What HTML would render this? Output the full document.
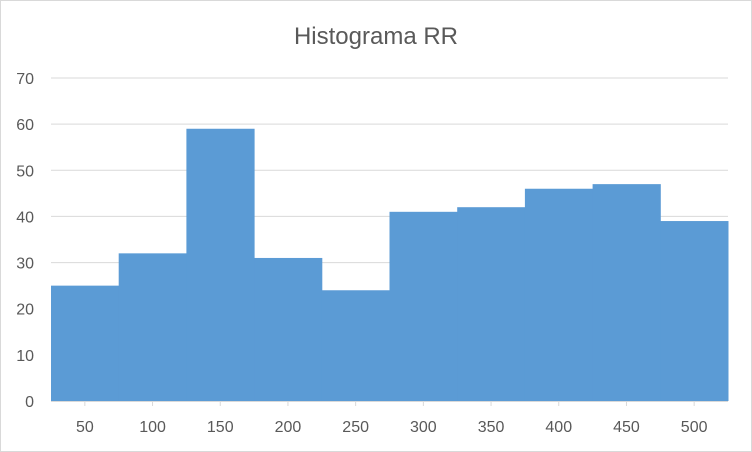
<!DOCTYPE html>
<html><head><meta charset="utf-8"><style>
body{margin:0;background:#fff}
svg{display:block;font-family:"Liberation Sans",sans-serif}
</style></head><body>
<svg id="c" width="752" height="452">
<rect x="0.5" y="0.5" width="751" height="451" fill="#fff" stroke="#d9d9d9"/>
<text x="376" y="44" text-anchor="middle" font-size="24" fill="#595959">Histograma RR</text>
<g id="grid"></g><g id="bars"></g><g id="axes"></g>
</svg>
<script>
const categories=[50,100,150,200,250,300,350,400,450,500];
const values=[25,32,59,31,24,41,42,46,47,39];
const yTicks=[0,10,20,30,40,50,60,70];
const X0=51,X1=728,Y0=401,Y1=78,YMAX=70;
const bw=(X1-X0)/categories.length;
const y=v=>Y0-(v/YMAX)*(Y0-Y1);
const xs=i=>X0+i*bw;
const NS="http://www.w3.org/2000/svg";
function mk(t,a,p){const e=document.createElementNS(NS,t);for(const k in a)e.setAttribute(k,a[k]);p.appendChild(e);return e;}
const g=document.getElementById('grid'),b=document.getElementById('bars'),ax=document.getElementById('axes');
yTicks.forEach(t=>{
 if(t>0){const l=mk('line',{x1:X0,x2:X1,y1:y(t),y2:y(t),stroke:'#d9d9d9'},g);
 
 }
 const tx=mk('text',{x:34,y:y(t)+6,'text-anchor':'end','font-size':16,fill:'#595959'},ax);
 tx.textContent=t;
 
 
});
values.forEach((v,i)=>{
 const r=mk('rect',{x:xs(i),y:y(v),width:bw+0.5,height:Y0-y(v),fill:'#5b9bd5'},b);
 
 
});
const axl=mk('line',{x1:X0,x2:X1,y1:Y0+0.5,y2:Y0+0.5,stroke:'#d9d9d9'},ax);


categories.forEach((c,i)=>{
 const cx=xs(i)+bw/2;
 const tk=mk('line',{x1:cx,x2:cx,y1:Y0,y2:Y0+5,stroke:'#d9d9d9'},ax);
 
 
 const tx=mk('text',{x:cx,y:432,'text-anchor':'middle','font-size':16,fill:'#595959'},ax);
 tx.textContent=c;
 
 
});
</script>
</body></html>
